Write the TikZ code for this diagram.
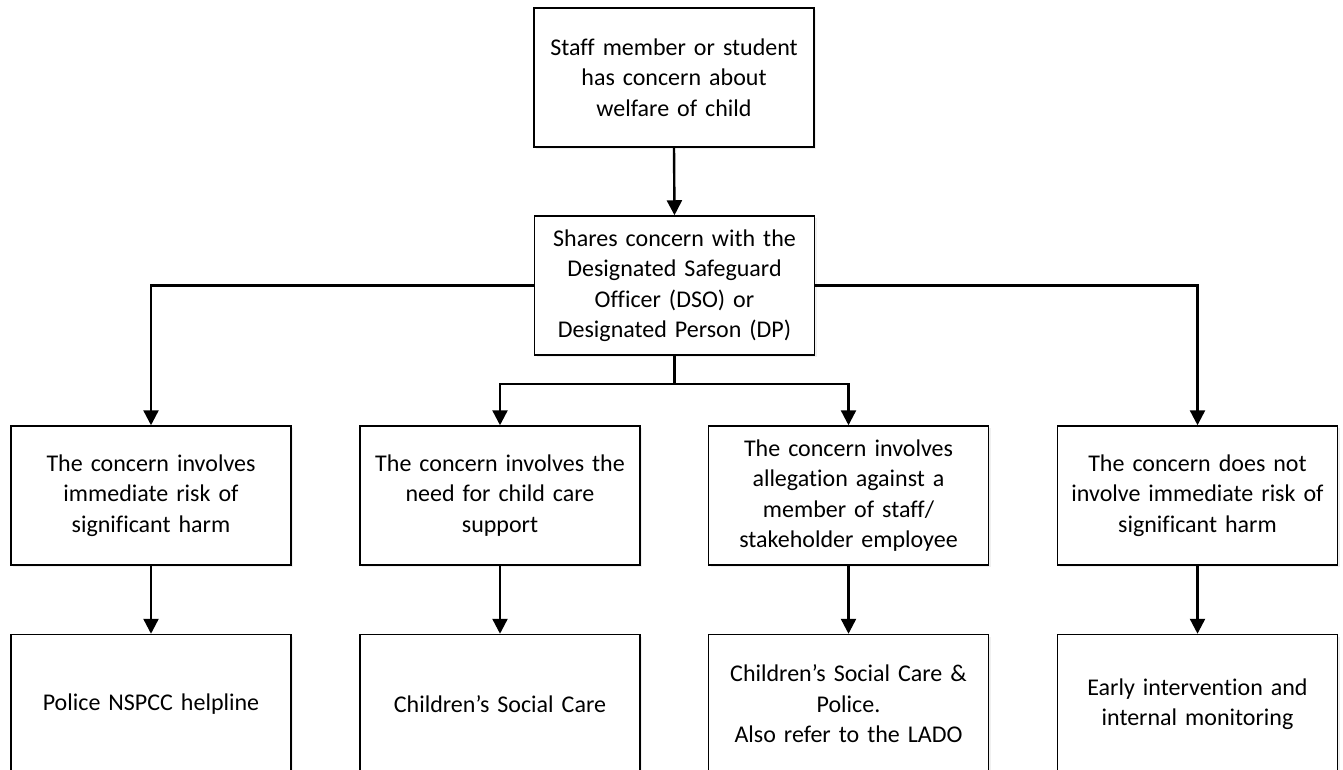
\documentclass[tikz,border=0pt]{standalone}
\usepackage{fontspec}
\setmainfont{Carlito}[WordSpace=0.7,Ligatures=NoCommon]
\usetikzlibrary{arrows.meta,shadows,calc}
\begin{document}
\begin{tikzpicture}[x=1pt,y=-1pt,
  box/.style={draw=black,line width=1.5pt,fill=white,minimum width=280pt,minimum height=139pt,
    text width=270pt,align=center,inner sep=0pt,font=\fontsize{24}{30.5}\selectfont,
    drop shadow={opacity=0.12,shadow xshift=2pt,shadow yshift=-2pt}},
  arr/.style={line width=2.4pt,-{Triangle[length=15pt,width=15pt]}},
  ln/.style={line width=2.4pt}]
\useasboundingbox (0,0) rectangle (1343,769);
\clip (0,0) rectangle (1343,769);
\node[box] (top) at (674,77.5) {Staff member or student\\has concern about\\welfare of child};
\node[box] (mid) at (674.5,285.5) {Shares concern with the\\Designated Safeguard\\Officer (DSO) or\\Designated Person (DP)};
\node[box] (c1) at (151,495.5) {The concern involves\\immediate risk of\\significant harm};
\node[box] (c2) at (500,495.5) {The concern involves the\\need for child care\\support};
\node[box] (c3) at (848.5,495.5) {The concern involves\\allegation against a\\member of staff/\\stakeholder employee};
\node[box] (c4) at (1197.5,495.5) {The concern does not\\involve immediate risk of\\significant harm};
\node[box] (d1) at (151,704) {Police NSPCC helpline};
\node[box] (d2) at (500,704) {Children’s Social Care};
\node[box] (d3) at (848.5,704) {Children’s Social Care \&\\Police.\\Also refer to the LADO};
\node[box] (d4) at (1197.5,704) {Early intervention and\\internal monitoring};
\coordinate (fork) at ($(mid.south)+(0,28)$);
\draw[arr] (top.south) -- (mid.north);
\draw[arr] (mid.west) -| (c1.north);
\draw[arr] (mid.east) -| (c4.north);
\draw[ln] (mid.south) -- (fork);
\draw[arr] (fork) -| (c2.north);
\draw[arr] (fork) -| (c3.north);
\draw[arr] (c1.south) -- (d1.north);
\draw[arr] (c2.south) -- (d2.north);
\draw[arr] (c3.south) -- (d3.north);
\draw[arr] (c4.south) -- (d4.north);
\end{tikzpicture}
\end{document}
